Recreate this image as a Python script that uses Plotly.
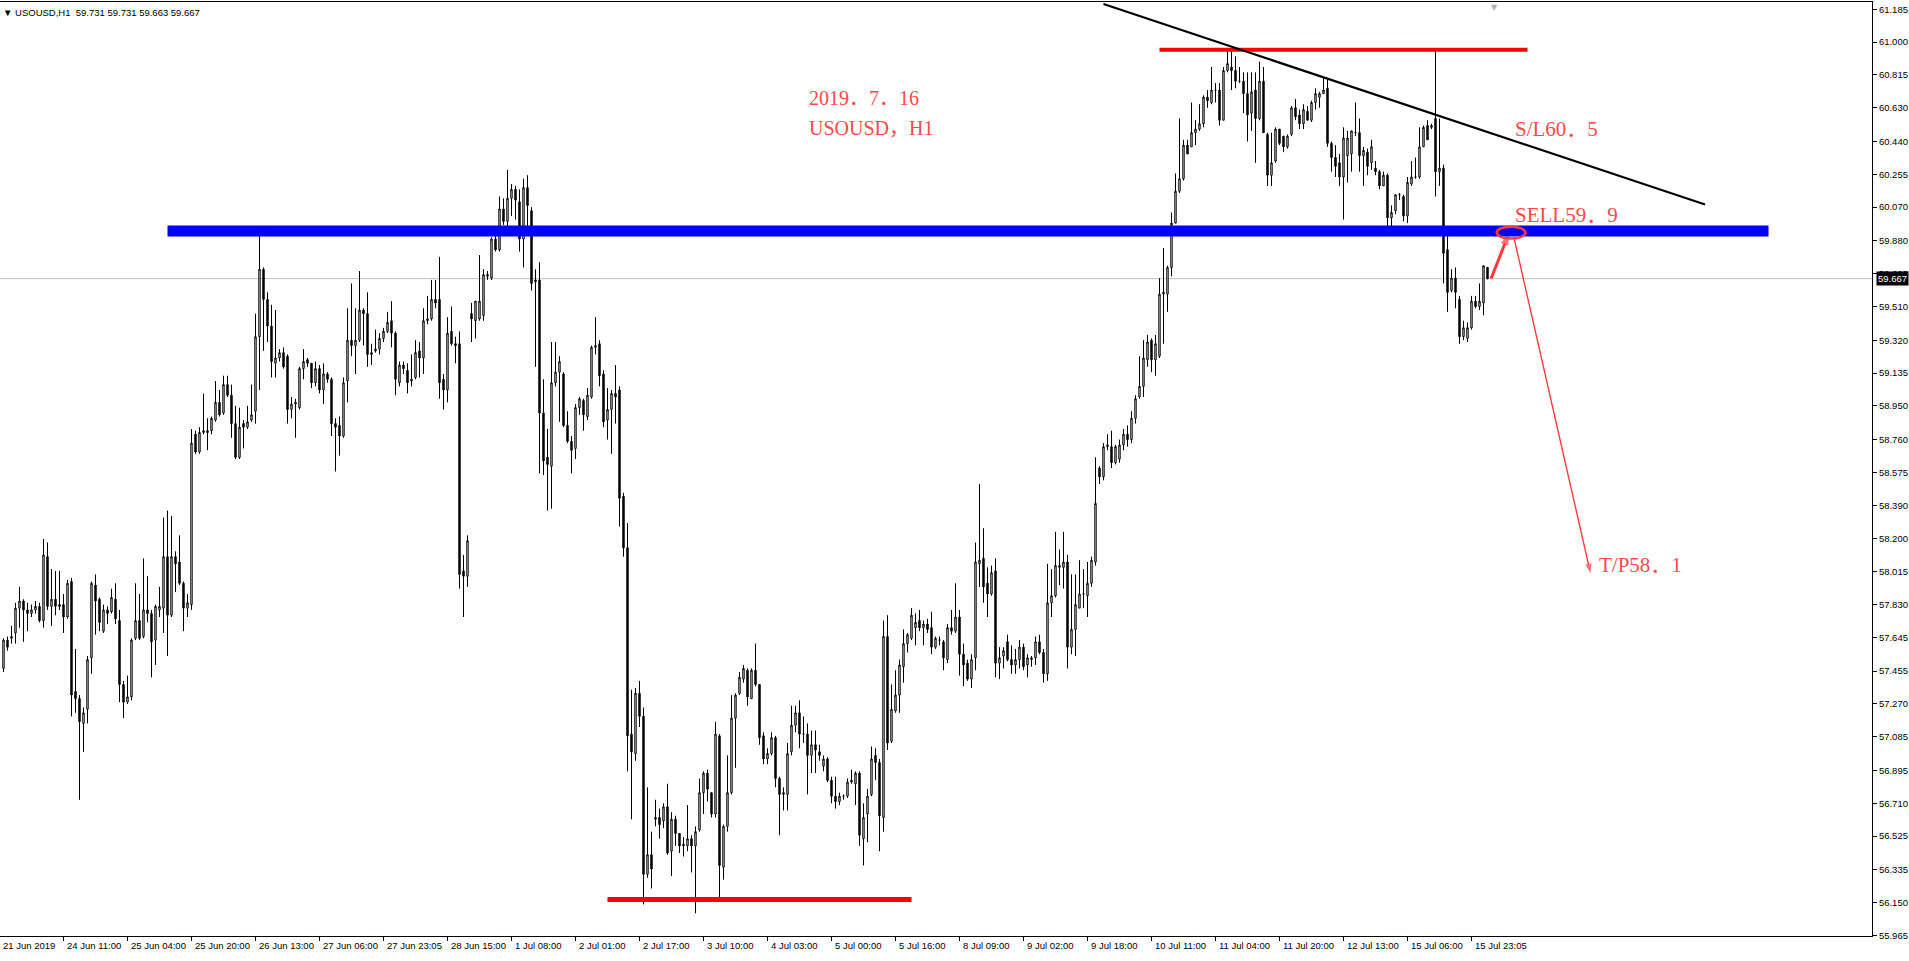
import plotly.graph_objects as go

# ---------------- data (USOUSD H1 candles) ----------------
opens = [
    57.47,57.63,57.64,57.67,57.81,57.85,57.80,57.78,57.80,57.82,
    57.74,58.10,57.82,57.86,57.83,57.83,57.76,57.96,57.34,57.30,
    57.16,57.24,57.53,57.94,57.86,57.68,57.80,57.79,57.86,57.74,
    57.38,57.28,57.31,57.64,57.74,57.65,57.80,57.78,57.63,57.80,
    57.81,58.10,57.77,58.10,58.07,57.95,57.81,57.83,58.79,58.69,
    58.80,58.81,58.81,58.87,58.97,58.91,59.07,59.01,58.85,58.66,
    58.85,58.83,58.87,58.92,59.34,59.72,59.55,59.40,59.19,59.22,
    59.25,59.23,58.93,58.96,58.94,59.16,59.21,59.19,59.08,59.16,
    59.04,59.13,59.10,58.85,58.84,58.78,59.09,59.32,59.29,59.32,
    59.49,59.47,59.24,59.26,59.27,59.33,59.37,59.43,59.36,59.08,
    59.18,59.15,59.09,59.11,59.26,59.22,59.43,59.44,59.55,59.55,
    59.10,59.04,59.37,59.30,59.30,58.02,57.99,59.47,59.43,59.44,
    59.46,59.68,59.67,59.89,59.83,60.06,59.99,60.12,60.17,60.10,
    59.89,60.18,60.05,59.66,59.66,58.91,58.66,58.61,59.08,59.14,
    59.13,58.84,58.75,58.71,58.94,58.98,58.89,59.00,59.28,59.30,
    59.13,58.87,58.93,59.02,59.04,58.44,58.15,57.10,56.99,57.33,
    57.20,56.31,56.42,56.62,56.63,56.61,56.69,56.44,56.62,56.54,
    56.47,56.47,56.51,56.47,56.56,56.77,56.88,56.77,56.65,57.09,
    56.35,56.58,56.77,57.19,57.33,57.41,57.46,57.30,57.46,57.38,
    57.09,56.96,56.99,57.08,56.85,56.76,56.76,57.00,57.15,57.22,
    57.10,57.10,56.98,57.04,57.00,56.92,56.96,56.84,56.75,56.72,
    56.75,56.75,56.83,56.82,56.88,56.51,56.65,56.76,56.98,56.94,
    56.63,57.65,57.06,57.23,57.32,57.48,57.61,57.64,57.70,57.74,
    57.70,57.72,57.70,57.59,57.63,57.62,57.52,57.70,57.68,57.76,
    57.55,57.50,57.41,57.53,58.06,58.09,57.95,57.89,58.02,57.50,
    57.54,57.62,57.52,57.49,57.52,57.59,57.49,57.52,57.53,57.62,
    57.56,57.44,57.84,57.88,58.04,58.04,58.07,57.59,57.69,57.81,
    57.89,57.88,57.95,58.07,58.60,58.55,58.72,58.72,58.63,58.65,
    58.73,58.79,58.76,58.88,59.00,59.06,59.21,59.32,59.21,59.23,
    59.58,59.58,59.73,59.98,60.16,60.23,60.42,60.41,60.49,60.51,
    60.54,60.69,60.66,60.73,60.73,60.56,60.84,60.86,60.84,60.78,
    60.78,60.71,60.60,60.73,60.57,60.78,60.48,60.25,60.33,60.51,
    60.47,60.41,60.48,60.63,60.59,60.54,60.61,60.56,60.66,60.69,
    60.71,60.74,60.43,60.35,60.32,60.24,60.36,60.37,60.49,60.49,
    60.36,60.38,60.32,60.29,60.27,60.19,60.25,60.01,60.05,60.14,
    60.13,60.02,60.20,60.24,60.24,60.41,60.53,60.52,60.57,60.27,
    60.29,59.83,59.60,59.67,59.55,59.34,59.33,59.39,59.54,59.51,
    59.53,59.731,
]
highs = [
    57.64,57.65,57.71,57.84,57.93,57.86,57.84,57.83,57.85,57.84,
    58.20,58.18,58.03,58.02,58.02,57.89,57.97,57.98,57.58,57.32,
    57.25,57.54,57.96,58.00,57.87,57.83,57.82,57.92,57.95,57.80,
    57.40,57.43,57.64,57.95,57.89,58.09,57.99,57.80,57.83,57.93,
    58.32,58.36,58.33,58.13,58.22,57.96,57.89,58.82,58.81,58.83,
    59.02,58.88,58.89,59.09,59.04,59.12,59.12,59.07,58.95,58.94,
    58.87,58.95,59.07,59.47,59.91,59.73,59.59,59.52,59.49,59.27,
    59.28,59.24,59.00,58.99,59.17,59.27,59.22,59.19,59.20,59.18,
    59.19,59.14,59.11,58.88,58.89,59.11,59.50,59.64,59.50,59.71,
    59.50,59.59,59.30,59.38,59.36,59.39,59.48,59.54,59.37,59.20,
    59.20,59.19,59.24,59.32,59.31,59.50,59.57,59.66,59.66,59.79,
    59.13,59.45,59.51,59.34,59.37,58.11,58.22,59.53,59.54,59.80,
    59.72,59.71,59.90,59.94,60.13,60.12,60.28,60.20,60.19,60.17,
    60.23,60.25,60.07,59.72,59.76,59.10,58.82,59.31,59.31,59.23,
    59.14,58.92,58.78,58.96,59.00,58.99,59.05,59.29,59.45,59.32,
    59.15,59.05,59.04,59.18,59.06,58.46,58.29,57.35,57.36,57.40,
    57.25,56.80,56.55,56.73,56.68,56.71,56.82,56.66,56.64,56.54,
    56.52,56.70,56.53,56.58,56.85,56.89,56.90,56.77,57.17,57.10,
    56.59,56.98,57.32,57.33,57.45,57.49,57.47,57.47,57.61,57.38,
    57.11,57.02,57.11,57.09,56.86,56.80,57.05,57.26,57.26,57.29,
    57.20,57.16,57.12,57.12,57.04,56.98,56.97,56.86,56.86,56.77,
    56.76,56.85,56.90,56.89,56.89,56.71,56.79,57.03,57.02,56.96,
    57.74,57.77,57.38,57.46,57.52,57.69,57.67,57.81,57.78,57.80,
    57.74,57.75,57.79,57.65,57.65,57.63,57.72,57.80,57.95,57.80,
    57.61,57.52,57.55,58.18,58.51,58.26,58.04,58.05,58.09,57.59,
    57.59,57.66,57.60,57.58,57.63,57.61,57.55,57.54,57.65,57.66,
    57.58,58.06,58.03,58.24,58.14,58.24,58.11,58.00,58.00,58.08,
    58.03,58.07,58.10,58.66,58.61,58.74,58.79,58.81,58.73,58.76,
    58.82,58.84,58.92,59.01,59.23,59.32,59.35,59.33,59.35,59.67,
    59.84,59.74,60.04,60.26,60.57,60.45,60.45,60.66,60.56,60.65,
    60.70,60.73,60.86,60.77,60.77,60.86,60.95,60.96,60.92,60.86,
    60.83,60.83,60.83,60.83,60.89,60.86,60.49,60.49,60.52,60.51,
    60.47,60.48,60.64,60.68,60.62,60.65,60.64,60.67,60.74,60.72,
    60.80,60.79,60.44,60.42,60.37,60.52,60.50,60.50,60.66,60.57,
    60.41,60.40,60.45,60.33,60.28,60.27,60.26,60.08,60.14,60.15,
    60.14,60.24,60.33,60.35,60.52,60.53,60.56,60.54,60.96,60.57,
    60.31,59.96,59.72,59.73,59.57,59.43,59.42,59.57,59.57,59.64,
    59.74,59.731,
]
lows = [
    57.45,57.57,57.61,57.61,57.70,57.62,57.68,57.76,57.78,57.73,
    57.70,57.80,57.71,57.77,57.80,57.67,57.75,57.20,57.22,56.73,
    57.00,57.16,57.44,57.66,57.68,57.67,57.72,57.78,57.72,57.28,
    57.19,57.27,57.29,57.63,57.63,57.64,57.73,57.42,57.49,57.76,
    57.67,57.54,57.76,57.90,57.94,57.68,57.76,57.80,58.68,58.68,
    58.79,58.70,58.79,58.86,58.89,58.90,59.00,58.77,58.65,58.65,
    58.71,58.82,58.86,58.85,59.04,59.26,59.31,59.11,59.11,59.20,
    59.16,58.85,58.88,58.77,58.93,59.10,59.17,59.05,59.06,59.02,
    58.96,59.08,58.78,58.58,58.67,58.77,58.97,59.23,59.13,59.31,
    59.29,59.17,59.18,59.25,59.24,59.31,59.36,59.28,59.01,59.06,
    59.13,59.02,59.06,59.10,59.11,59.13,59.41,59.43,59.50,58.99,
    58.93,58.97,59.29,59.19,57.92,57.76,57.93,59.31,59.33,59.43,
    59.43,59.66,59.66,59.82,59.82,59.97,59.96,60.02,60.00,59.82,
    59.73,59.95,59.60,59.17,58.57,58.56,58.36,58.37,59.06,58.86,
    58.83,58.74,58.57,58.65,58.90,58.81,58.87,58.99,59.24,59.06,
    58.83,58.76,58.68,58.85,58.27,58.10,56.89,56.62,56.95,57.14,
    56.14,56.29,56.23,56.58,56.51,56.57,56.42,56.30,56.47,56.43,
    56.41,56.44,56.32,56.09,56.55,56.65,56.72,56.63,56.63,56.17,
    56.28,56.55,56.76,56.91,57.32,57.39,57.26,57.30,57.37,57.04,
    56.93,56.93,56.98,56.80,56.53,56.67,56.67,56.98,57.11,57.02,
    57.05,56.76,56.88,56.88,56.95,56.89,56.83,56.71,56.68,56.70,
    56.73,56.74,56.82,56.70,56.47,56.36,56.49,56.75,56.84,56.44,
    56.55,57.01,57.05,57.22,57.22,57.39,57.56,57.63,57.60,57.68,
    57.60,57.67,57.55,57.58,57.60,57.46,57.50,57.66,57.67,57.43,
    57.37,57.40,57.36,57.46,57.93,57.84,57.76,57.88,57.42,57.41,
    57.47,57.51,57.44,57.44,57.47,57.46,57.42,57.48,57.49,57.55,
    57.39,57.40,57.76,57.87,57.94,57.92,57.47,57.55,57.54,57.81,
    57.81,57.76,57.93,58.05,58.51,58.53,58.70,58.60,58.62,58.63,
    58.70,58.72,58.74,58.85,58.99,59.00,59.17,59.14,59.12,59.22,
    59.30,59.48,59.68,59.98,60.15,60.22,60.37,60.41,60.42,60.50,
    60.52,60.63,60.65,60.66,60.53,60.56,60.83,60.73,60.74,60.77,
    60.60,60.44,60.50,60.32,60.56,60.49,60.19,60.19,60.32,60.42,
    60.38,60.40,60.47,60.56,60.51,60.51,60.56,60.55,60.62,60.63,
    60.71,60.41,60.27,60.24,60.19,60.00,60.21,60.27,60.47,60.27,
    60.19,60.25,60.28,60.25,60.17,60.19,59.96,59.92,60.03,60.11,
    59.99,59.98,60.19,60.23,60.23,60.41,60.45,60.51,60.13,60.19,
    59.64,59.48,59.59,59.50,59.30,59.32,59.31,59.38,59.50,59.49,
    59.46,59.663,
]
closes = [
    57.63,57.59,57.65,57.81,57.85,57.80,57.78,57.80,57.82,57.74,
    58.11,57.82,57.86,57.82,57.82,57.76,57.95,57.32,57.30,57.17,
    57.22,57.52,57.95,57.85,57.73,57.80,57.78,57.87,57.75,57.38,
    57.28,57.31,57.63,57.74,57.64,57.80,57.78,57.62,57.82,57.82,
    58.10,57.77,58.10,58.06,57.95,57.81,57.84,58.74,58.69,58.80,
    58.81,58.80,58.88,58.97,58.90,59.07,59.01,58.85,58.66,58.83,
    58.83,58.86,58.90,59.34,59.72,59.55,59.40,59.20,59.22,59.25,
    59.17,58.93,58.96,58.97,59.16,59.20,59.19,59.08,59.16,59.04,
    59.13,59.10,58.85,58.83,58.78,59.08,59.32,59.29,59.32,59.49,
    59.47,59.24,59.25,59.27,59.33,59.37,59.42,59.36,59.10,59.18,
    59.16,59.08,59.10,59.25,59.22,59.43,59.44,59.55,59.53,59.08,
    59.04,59.36,59.30,59.29,58.00,57.99,58.19,59.44,59.54,59.54,
    59.69,59.69,59.89,59.83,60.06,59.99,60.12,60.17,60.11,59.89,
    60.18,60.08,59.64,59.65,58.91,58.64,58.62,59.08,59.14,59.20,
    58.84,58.75,58.70,58.94,58.99,58.90,59.01,59.28,59.29,59.12,
    58.86,58.93,59.02,59.00,58.43,58.15,57.09,57.00,57.33,57.20,
    56.31,56.42,56.34,56.63,56.59,56.69,56.43,56.62,56.54,56.47,
    56.48,56.51,56.47,56.55,56.77,56.88,56.79,56.65,57.10,56.36,
    56.58,56.77,57.19,57.32,57.42,57.47,57.31,57.46,57.38,57.08,
    56.96,56.99,57.08,56.85,56.76,56.77,56.99,57.15,57.22,57.10,
    57.10,56.98,57.04,57.01,56.98,56.96,56.84,56.75,56.72,56.75,
    56.75,56.83,56.84,56.88,56.53,56.63,56.75,56.96,56.94,56.64,
    57.65,57.05,57.24,57.32,57.49,57.61,57.66,57.77,57.73,57.70,
    57.72,57.69,57.59,57.64,57.63,57.53,57.70,57.68,57.76,57.55,
    57.49,57.41,57.52,58.07,58.08,57.93,57.89,58.01,57.50,57.53,
    57.57,57.52,57.49,57.52,57.59,57.48,57.53,57.53,57.62,57.56,
    57.44,57.84,57.88,58.05,58.05,58.07,57.59,57.69,57.83,57.89,
    57.89,57.95,58.08,58.40,58.55,58.72,58.73,58.63,58.72,58.73,
    58.79,58.76,58.88,58.99,59.06,59.22,59.31,59.21,59.30,59.58,
    59.59,59.73,59.98,60.16,60.23,60.42,60.37,60.49,60.51,60.54,
    60.69,60.67,60.73,60.73,60.56,60.84,60.88,60.84,60.78,60.78,
    60.71,60.59,60.72,60.57,60.78,60.49,60.25,60.32,60.51,60.43,
    60.41,60.47,60.63,60.58,60.54,60.62,60.56,60.66,60.71,60.71,
    60.73,60.43,60.35,60.30,60.24,60.46,60.46,60.50,60.49,60.36,
    60.39,60.30,60.41,60.27,60.19,60.25,60.01,60.04,60.14,60.14,
    60.02,60.21,60.24,60.24,60.41,60.52,60.45,60.53,60.27,60.29,
    59.81,59.59,59.67,59.59,59.34,59.39,59.39,59.54,59.51,59.54,
    59.74,59.667,
]
assert len(opens) == len(highs) == len(lows) == len(closes) == 372, (len(opens), len(highs), len(lows), len(closes))

time_labels = ["21 Jun 2019", "24 Jun 11:00", "25 Jun 04:00", "25 Jun 20:00", "26 Jun 13:00",
               "27 Jun 06:00", "27 Jun 23:05", "28 Jun 15:00", "1 Jul 08:00", "2 Jul 01:00",
               "2 Jul 17:00", "3 Jul 10:00", "4 Jul 03:00", "5 Jul 00:00", "5 Jul 16:00",
               "8 Jul 09:00", "9 Jul 02:00", "9 Jul 18:00", "10 Jul 11:00", "11 Jul 04:00",
               "11 Jul 20:00", "12 Jul 13:00", "15 Jul 06:00", "15 Jul 23:05"]
bars_per_label = 16

price_ticks = [61.185, 61.000, 60.815, 60.630, 60.440, 60.255, 60.070, 59.880, 59.695, 59.510,
               59.320, 59.135, 58.950, 58.760, 58.575, 58.390, 58.200, 58.015, 57.830, 57.645,
               57.455, 57.270, 57.085, 56.895, 56.710, 56.525, 56.335, 56.150, 55.965]

symbol = "USOUSD,H1"
sell_band = 59.935          # blue horizontal zone
top_level = 60.957          # upper red line
bottom_level = 56.168       # lower red line
trend_from = (275.0, 61.215)
trend_to = (425.4, 60.085)
entry_from = (371.0, 59.667)
entry_mark = (376.4, 59.925)
target_from = (377.6, 59.90)
target_mark = (396.75, 58.007)

RED = "#ff3b3b"
TXT_RED = "#ff4a4a"

X_MIN, X_MAX = -0.875, 467.125
bars = list(range(len(opens)))
tick_bars = [bars_per_label * k - 1 for k in range(len(time_labels))]

fig = go.Figure()
fig.add_trace(go.Candlestick(
    x=bars, open=opens, high=highs, low=lows, close=closes,
    increasing=dict(line=dict(color="black", width=1), fillcolor="white"),
    decreasing=dict(line=dict(color="black", width=1), fillcolor="black"),
    whiskerwidth=0, hoverinfo="skip", showlegend=False,
))
# hand-drawn arrows (entry -> sell zone, sell zone -> target)
fig.add_trace(go.Scatter(
    x=[entry_from[0] + 0.9, entry_mark[0]], y=[entry_from[1], entry_mark[1]],
    mode="lines+markers", line=dict(color=RED, width=3),
    marker=dict(symbol="arrow", size=[0, 13], color=RED, angleref="previous", line=dict(width=0)),
    hoverinfo="skip", showlegend=False, cliponaxis=False,
))
fig.add_trace(go.Scatter(
    x=[target_from[0], target_mark[0]], y=[target_from[1], target_mark[1]],
    mode="lines+markers", line=dict(color=RED, width=1.4),
    marker=dict(symbol="arrow", size=[0, 10], color=RED, angleref="previous", line=dict(width=0)),
    hoverinfo="skip", showlegend=False, cliponaxis=False,
))

shapes = [
    dict(type="line", xref="paper", x0=0, x1=1, yref="y", y0=closes[-1], y1=closes[-1],
         line=dict(color="#c0c0c0", width=1), layer="below"),
    dict(type="line", xref="x", x0=41, x1=441.25, yref="y", y0=sell_band, y1=sell_band,
         line=dict(color="#0000ff", width=11), layer="above"),
    dict(type="line", xref="x", x0=289, x1=381, yref="y", y0=top_level, y1=top_level,
         line=dict(color="#ff0000", width=4), layer="above"),
    dict(type="line", xref="x", x0=151, x1=227, yref="y", y0=bottom_level, y1=bottom_level,
         line=dict(color="#ff0000", width=5), layer="above"),
    dict(type="line", xref="x", x0=trend_from[0], x1=trend_to[0], yref="y",
         y0=trend_from[1], y1=trend_to[1], line=dict(color="black", width=2.2), layer="above"),
    dict(type="circle", xref="x", x0=373.3, x1=380.5, yref="y", y0=59.893, y1=59.960,
         line=dict(color=RED, width=2.5), layer="above"),
]

ann = []
# x-axis labels (MT4 style, left aligned after the tick)
for b, t in zip(tick_bars, time_labels):
    ann.append(dict(x=max(b, X_MIN), xref="x", y=0, yref="paper", text=t, showarrow=False,
                    xanchor="left", yanchor="top", xshift=1, yshift=-2,
                    font=dict(family="Liberation Sans, Arial", size=9.5, color="black")))
# header
nb = "\u00a0"
header = f"{symbol}{nb}{nb}{opens[-1]:.3f} {highs[-1]:.3f} {lows[-1]:.3f} {closes[-1]:.3f}"
ann.append(dict(x=0.0, xref="paper", y=1, yref="paper", text="\u25bc " + header, showarrow=False,
                xanchor="left", yanchor="top", xshift=1, yshift=-3,
                font=dict(family="Liberation Sans, Arial", size=9.5, color="black")))
# chart shift marker
ann.append(dict(x=0.7986, xref="paper", y=1, yref="paper", text="\u25bc", showarrow=False,
                xanchor="center", yanchor="top", yshift=1,
                font=dict(family="DejaVu Sans", size=8, color="#b0b0b0")))
# current price label
ann.append(dict(x=1, xref="paper", y=closes[-1], yref="y", text=f"{closes[-1]:.3f}", showarrow=False,
                xanchor="left", yanchor="middle", xshift=4, bgcolor="black", borderpad=1,
                font=dict(family="Liberation Sans, Arial", size=9.5, color="white")))
# red comment texts
serif = "Liberation Serif, Noto Sans CJK JP, serif"
for txt, xp, yp, sz in [
    ("2019\uff0e7\uff0e16", 0.4311, 0.8976, 20),
    ("USOUSD\uff0cH1", 0.4311, 0.8653, 20),
    ("S/L60\uff0e5", 0.8080, 0.8640, 21),
    ("SELL59\uff0e9", 0.8080, 0.7715, 21),
    ("T/P58\uff0e1", 0.8531, 0.3972, 21),
]:
    ann.append(dict(x=xp, xref="paper", y=yp, yref="paper", text=txt, showarrow=False,
                    xanchor="left", yanchor="middle",
                    font=dict(family=serif, size=sz, color=TXT_RED)))

fig.update_layout(
    width=1909, height=961,
    margin=dict(l=0, r=37, t=2, b=25),
    paper_bgcolor="white", plot_bgcolor="white",
    showlegend=False, hovermode=False, boxgap=0.5,
    shapes=shapes, annotations=ann,
    xaxis=dict(range=[X_MIN, X_MAX], showgrid=False, zeroline=False,
               showline=True, linecolor="black", linewidth=1, mirror=True,
               ticks="outside", ticklen=4, tickcolor="black", tickwidth=1,
               tickvals=tick_bars, showticklabels=False,
               rangeslider=dict(visible=False), fixedrange=True),
    yaxis=dict(range=[55.962, 61.2264], side="right", showgrid=False, zeroline=False,
               showline=True, linecolor="black", linewidth=1,
               ticks="outside", ticklen=4, tickcolor="black", tickwidth=1,
               tickvals=price_ticks, ticktext=[f"{v:.3f}" for v in price_ticks],
               tickfont=dict(family="Liberation Sans, Arial", size=9.5, color="black"),
               fixedrange=True),
)

fig.write_html("out.html", config={"displayModeBar": False, "staticPlot": True},
               post_script="document.body.style.margin='0';document.body.style.overflow='hidden';")
